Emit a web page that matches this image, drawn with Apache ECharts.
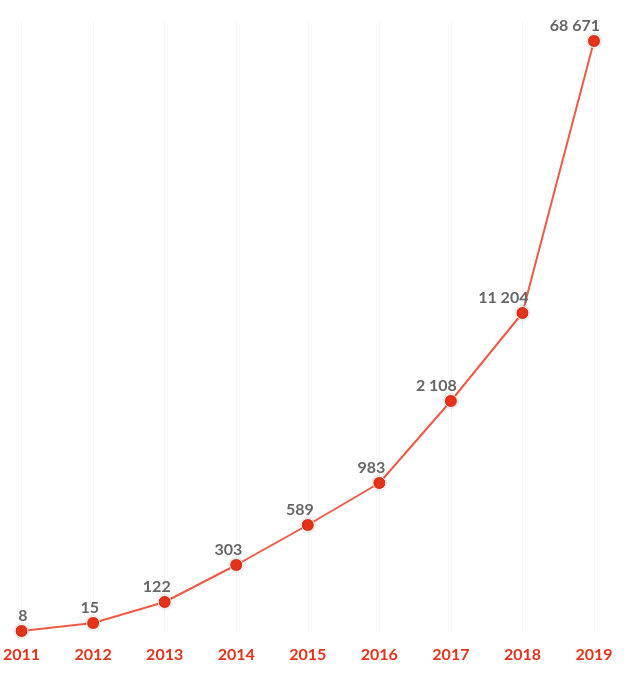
<!DOCTYPE html>
<html>
<head>
<meta charset="utf-8">
<script src="https://cdn.jsdelivr.net/npm/echarts@6/dist/echarts.min.js"></script>
<style>html,body{margin:0;padding:0;background:#fff;}#c{width:630px;height:680px;}</style>
</head>
<body>
<div id="c"></div>
<script>
// Categories (years)
const years = ['2011','2012','2013','2014','2015','2016','2017','2018','2019'];
// Values shown as labels
const values = [8, 15, 122, 303, 589, 983, 2108, 11204, 68671];
// Plotted heights (the reference uses a non-proportional vertical placement)
const heights = [0, 8, 29, 66, 106, 148, 230, 318, 590];

function fmt(v){ return String(v).replace(/\B(?=(\d{3})+(?!\d))/g, ' '); }

const chart = echarts.init(document.getElementById('c'), null, {renderer:'canvas'});
chart.setOption({
  animation: false,
  grid: {left: 16, right: 36, top: 21, bottom: 49},
  xAxis: {
    type: 'category',
    data: years,
    boundaryGap: false,
    axisLine: {show: false},
    axisTick: {show: false},
    splitLine: {show: true, lineStyle: {color: '#f5f5f5', width: 1}},
    axisLabel: {color: '#e5331a', fontFamily: 'Lato', fontWeight: 'bold', fontSize: 16, margin: 16}
  },
  yAxis: {
    type: 'value', min: 0, max: 610, show: false, splitLine: {show: false}
  },
  series: [{
    type: 'line',
    data: heights,
    symbol: 'circle',
    symbolSize: 13,
    lineStyle: {color: '#ef5a44', width: 2},
    itemStyle: {color: '#e5331a', borderColor: '#fff', borderWidth: 1, shadowBlur: 3, shadowColor: 'rgba(0,0,0,0.2)'},
    label: {
      show: true,
      position: 'top',
      distance: 0,
      align: 'right',
      offset: [6, 0],
      color: '#666',
      fontFamily: 'Lato',
      fontWeight: 'bold',
      fontSize: 16,
      formatter: p => fmt(values[p.dataIndex])
    }
  }]
});
</script>
</body>
</html>
